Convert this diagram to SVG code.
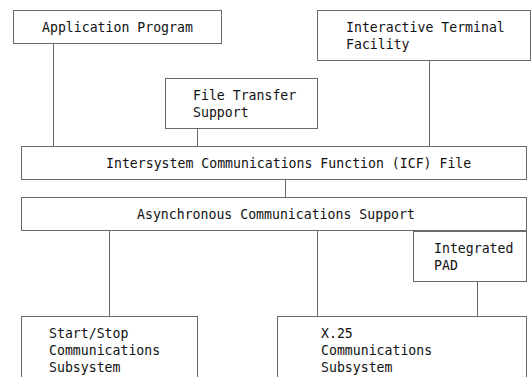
<svg xmlns="http://www.w3.org/2000/svg" width="532" height="377" viewBox="0 0 532 377">
<style>
rect.box{fill:#fff;stroke:#6a6a6a;stroke-width:1}
.conn line{stroke:#6a6a6a;stroke-width:1}
text{font-family:"DejaVu Sans Mono","Liberation Mono",monospace;font-size:13.2px;fill:#111}
</style>
<rect width="532" height="377" fill="#fff"/>
<g class="conn" id="connectors">
<line x1="53.5" y1="43" x2="53.5" y2="146"/>
<line x1="197.5" y1="128" x2="197.5" y2="146"/>
<line x1="429.5" y1="61" x2="429.5" y2="146"/>
<line x1="285.5" y1="180" x2="285.5" y2="197"/>
<line x1="109.5" y1="231" x2="109.5" y2="316"/>
<line x1="317.5" y1="231" x2="317.5" y2="316"/>
<line x1="477.5" y1="282" x2="477.5" y2="316"/>
</g>
<g id="app">
<rect class="box" x="13.5" y="10.5" width="208" height="33"/>
<text x="42" y="31.5">Application Program</text>
</g>
<g id="itf">
<rect class="box" x="317.5" y="10.5" width="213" height="50"/>
<text x="346" y="31.5">Interactive Terminal</text>
<text x="346" y="48.5">Facility</text>
</g>
<g id="fts">
<rect class="box" x="165.5" y="78.5" width="152" height="50"/>
<text x="193" y="99.5">File Transfer</text>
<text x="193" y="116.5">Support</text>
</g>
<g id="icf">
<rect class="box" x="21.5" y="146.5" width="505" height="33"/>
<text x="106" y="167.5">Intersystem Communications Function (ICF) File</text>
</g>
<g id="async">
<rect class="box" x="21.5" y="197.5" width="505" height="33"/>
<text x="137" y="218.5">Asynchronous Communications Support</text>
</g>
<g id="pad">
<rect class="box" x="413.5" y="231.5" width="113" height="50"/>
<text x="434" y="252.5">Integrated</text>
<text x="434" y="269.5">PAD</text>
</g>
<g id="startstop">
<rect class="box" x="21.5" y="316.5" width="176" height="70"/>
<text x="49" y="337.5">Start/Stop</text>
<text x="49" y="354.5">Communications</text>
<text x="49" y="371.5">Subsystem</text>
</g>
<g id="x25">
<rect class="box" x="277.5" y="316.5" width="249" height="70"/>
<text x="321" y="337.5">X.25</text>
<text x="321" y="354.5">Communications</text>
<text x="321" y="371.5">Subsystem</text>
</g>
</svg>
